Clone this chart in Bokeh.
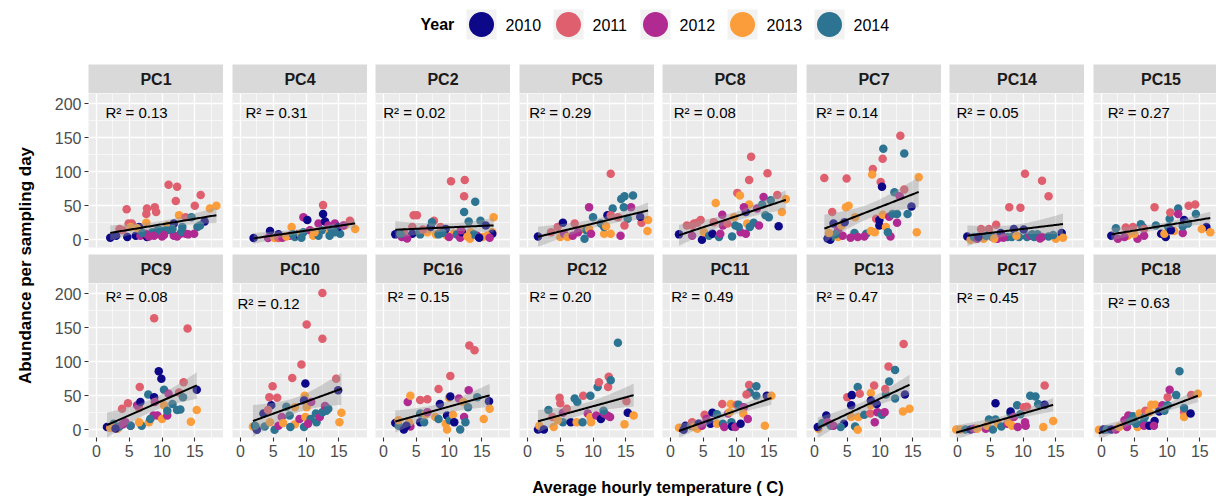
import math
import numpy as np
from bokeh.plotting import figure
from bokeh.layouts import row, column
from bokeh.models import Range1d, FixedTicker, Label, ColumnDataSource
from bokeh.transform import factor_cmap
from bokeh.core.properties import value
from bokeh.embed import file_html
from bokeh.resources import INLINE

# ------------------------------------------------------------------ data
YEARS = ["2010", "2011", "2012", "2013", "2014"]
YEAR_COLORS = ["#0D0887", "#DF5F6E", "#B02A92", "#FA9D3A", "#2C7491"]

ROW_1 = ["PC1", "PC4", "PC2", "PC5", "PC8", "PC7", "PC14", "PC15"]
ROW_2 = ["PC9", "PC10", "PC16", "PC12", "PC11", "PC13", "PC17", "PC18"]

R_SQUARED = {
    "PC1": "0.13", "PC4": "0.31", "PC2": "0.02", "PC5": "0.29",
    "PC8": "0.08", "PC7": "0.14", "PC14": "0.05", "PC15": "0.27",
    "PC9": "0.08", "PC10": "0.12", "PC16": "0.15", "PC12": "0.20",
    "PC11": "0.49", "PC13": "0.47", "PC17": "0.45", "PC18": "0.63",
}

X_TICKS = [0, 5, 10, 15]
X_MINOR = [-2.5, 2.5, 7.5, 12.5, 17.5]
Y_TICKS = [0, 50, 100, 150, 200]
Y_MINOR = [25, 75, 125, 175]

PC1_TEMP = [2.1, 3.5, 4.6, 4.9, 5.4, 4.7, 5.2, 6.0, 6.7, 6.5, 7.6, 7.7, 7.6, 7.7, 8.9, 9.1, 8.5, 9.3, 8.8, 10.0,
            10.8, 11.0, 12.3, 12.1, 12.6, 11.8, 11.3, 11.8, 12.8, 13.1, 13.6, 14.5, 13.6, 15.4, 15.0, 15.9, 16.5,
            17.3, 18.3, 14.9, 10.6, 7.5, 9.7, 9.9, 10.3, 11.6, 12.3, 13.0, 14.0, 6.2, 7.0, 8.0, 3.0, 4.0, 15.8]
PC1_ABUND = [3, 16, 45, 24, 24, 4, 19, 6, 6, 19, 38, 46, 25, 4, 48, 41, 11, 14, 6, 5,
             21, 81, 78, 57, 36, 24, 14, 6, 9, 19, 33, 33, 9, 19, 50, 66, 27, 46, 50, 9, 14, 9, 14,
             12, 7, 16, 5, 12, 8, 17, 10, 5, 6, 14, 21]
PC1_YEAR = [2010, 2011, 2011, 2011, 2011, 2010, 2013, 2010, 2012, 2010, 2011, 2011, 2013, 2010, 2011, 2011, 2014,
            2014, 2012, 2012, 2013, 2011, 2011, 2011, 2013, 2010, 2014, 2012, 2012, 2014, 2011, 2014, 2012, 2014,
            2011, 2011, 2010, 2013, 2013, 2012, 2014, 2012, 2014,
            2014, 2012, 2014, 2012, 2014, 2012, 2013, 2014, 2012, 2010, 2011, 2014]

PC4_TEMP = [2.0, 4.5, 4.2, 5.2, 5.8, 7.8, 7.5, 8.3, 8.8, 9.1, 9.6, 10.2, 9.6, 10.6, 11.1, 11.9, 12.6, 12.6, 12.9,
            11.9, 12.4, 13.4, 13.6, 13.9, 14.4, 15.2, 15.9, 16.7, 17.5, 14.9, 15.7, 14.4, 11.3, 13.6, 5.8, 6.4,
            7.0, 8.0, 9.3]
PC4_ABUND = [2.5, 13, 2.5, 2.5, 8, 19, 6, 4, 8, 9, 33, 29, 11, 14, 6, 24, 51, 38, 27, 6, 14, 21, 10, 16, 24, 9,
             21, 28, 16, 19, 21, 11, 11, 6, 2.5, 3, 5, 8, 3]
PC4_YEAR = [2010, 2010, 2012, 2013, 2010, 2013, 2012, 2014, 2010, 2013, 2012, 2010, 2014, 2012, 2013, 2012, 2011,
            2010, 2010, 2014, 2014, 2012, 2013, 2014, 2012, 2014, 2013, 2011, 2013, 2010, 2012, 2014, 2013, 2014,
            2011, 2012, 2013, 2014, 2014]

PC2_TEMP = [1.8, 2.8, 3.1, 4.4, 4.6, 5.1, 4.4, 5.6, 6.7, 7.2, 7.7, 7.4, 8.0, 8.4, 8.7, 9.7, 9.5, 10.3, 12.4, 12.3,
            14.0, 12.3, 13.0, 10.7, 11.2, 11.7, 12.0, 13.2, 13.3, 14.3, 15.1, 14.8, 15.6, 16.8, 16.6, 16.6, 11.8, 2.6,
            15.8, 16.2, 13.8, 14.6, 12.8, 10.0, 9.0, 5.5, 6.0, 3.6]
PC2_ABUND = [8, 4, 11, 19, 36, 36, 9, 8, 11, 19, 28, 26, 8, 8, 19, 6, 16, 86, 88, 64,
             56, 41, 27, 9, 8, 3, 11, 1.5, 11, 6, 4, 28, 21, 33, 11, 9, 14, 9,
             6, 3, 8, 3, 5, 4, 10, 12, 15, 2]
PC2_YEAR = [2010, 2012, 2011, 2011, 2011, 2011, 2010, 2014, 2013, 2010, 2011, 2014, 2013, 2014, 2011, 2013, 2010,
            2011, 2011, 2011, 2014, 2014, 2014, 2013, 2014, 2012, 2010, 2013, 2013, 2012, 2013, 2014, 2010, 2013,
            2013, 2010, 2012, 2014,
            2013, 2012, 2014, 2010, 2013, 2012, 2014, 2014, 2011, 2012]

PC5_TEMP = [1.6, 3.6, 4.6, 5.4, 5.0, 5.6, 6.1, 6.9, 7.2, 8.3, 7.7, 9.4, 8.7, 9.0, 9.4, 10.0, 9.7, 11.2, 11.7, 12.2,
            13.0, 12.7, 12.7, 12.7, 14.2, 14.3, 14.8, 16.1, 15.3, 15.8, 14.8, 14.7, 17.4, 18.4, 18.3, 17.2, 11.7,
            13.8, 12.0]
PC5_ABUND = [5, 11, 19, 25, 4, 9, 4, 6, 24, 16, 11, 48, 1.5, 14, 16, 33, 9, 24, 9, 36,
             46, 97, 36, 9, 6, 60, 64, 65, 31, 48, 21, 48, 25, 29, 13, 34, 19, 33, 20]
PC5_YEAR = [2010, 2011, 2011, 2010, 2013, 2012, 2013, 2012, 2011, 2013, 2012, 2012, 2014, 2014, 2013, 2014, 2012,
            2014, 2013, 2010, 2014, 2011, 2011, 2013, 2012, 2014, 2014, 2014, 2014, 2012, 2011, 2014, 2011, 2013,
            2013, 2010, 2014, 2011, 2013]

PC8_TEMP = [1.3, 2.5, 3.6, 4.1, 4.6, 3.3, 4.8, 5.1, 5.9, 6.4, 6.9, 6.6, 7.4, 7.9, 8.0, 7.6, 8.7, 9.7, 9.4, 9.9,
            10.2, 10.6, 10.7, 10.4, 11.7, 11.5, 11.5, 12.1, 12.0, 11.2, 12.0, 12.3, 12.7, 13.2, 13.5, 14.0, 14.2,
            14.8, 14.5, 15.0, 15.3, 16.5, 16.3, 17.0, 17.6, 3.3]
PC8_ABUND = [8, 21, 24, 25, 29, 6, 0, 11, 6, 9, 54, 26, 4, 37, 21, 9, 24, 33, 5, 21,
             69, 65, 11, 19, 24, 41, 9, 19, 52, 48, 88, 122, 25, 46, 21, 52, 63, 98, 36, 33, 58, 20, 66, 41, 60, 21]
PC8_YEAR = [2010, 2011, 2011, 2011, 2011, 2012, 2010, 2013, 2014, 2010, 2013, 2011, 2014, 2012, 2012, 2012, 2011,
            2013, 2014, 2014, 2011, 2013, 2012, 2014, 2013, 2010, 2012, 2014, 2013, 2012, 2011, 2011, 2014, 2012,
            2012, 2014, 2012, 2011, 2014, 2014, 2014, 2010, 2011, 2013, 2013, 2011]

PC7_TEMP = [1.5, 4.9, 2.7, 2.4, 2.9, 2.8, 3.6, 3.6, 4.8, 5.2, 4.3, 4.1, 6.1, 6.6, 6.2, 4.6, 7.9, 8.6, 9.2, 8.9,
            8.8, 10.1, 10.4, 10.5, 10.3, 9.4, 9.9, 10.4, 9.9, 10.9, 11.4, 11.6, 11.2, 12.6, 12.2, 12.6, 13.0, 13.1,
            13.7, 13.7, 14.2, 14.8, 15.9, 15.6, 11.9, 7.6, 2.0, 3.2, 5.5, 2.2]
PC7_ABUND = [91, 90, 41, 0, 24, 5, 4, 14, 48, 50, 6, 21, 10, 4, 33, 26, 9, 13, 11, 104,
             96, 85, 119, 134, 78, 31, 29, 37, 21, 19, 34, 5, 11, 25, 70, 38, 64, 153, 127, 74, 38, 49, 92, 11, 38, 5,
             2, 8, 3, 10]
PC7_YEAR = [2011, 2011, 2011, 2010, 2010, 2014, 2013, 2012, 2013, 2013, 2012, 2013, 2014, 2012, 2013, 2010, 2014,
            2013, 2013, 2011, 2013, 2011, 2011, 2014, 2010, 2011, 2010, 2013, 2010, 2013, 2012, 2012, 2014, 2012,
            2014, 2014, 2012, 2011, 2014, 2011, 2014, 2010, 2013, 2013, 2014, 2012, 2010, 2014, 2012, 2013]

PC14_TEMP = [1.5, 2.0, 2.5, 3.6, 3.0, 4.8, 5.9, 4.0, 5.3, 6.6, 6.1, 7.6, 7.9, 8.6, 9.6, 10.3, 9.4, 10.1, 10.6, 11.1,
             11.7, 12.2, 12.9, 13.9, 12.9, 13.9, 15.0, 15.9, 16.1, 8.3, 4.4, 5.6, 7.0, 3.2, 9.0, 11.4, 12.6, 14.6]
PC14_ABUND = [5, 0, 4, 16, 1.5, 16, 22, 1.5, 4, 10, 1.5, 4, 48, 16, 47, 97, 4, 15, 4, 6,
              4, 8, 87, 64, 4, 5, 1.5, 10, 3, 4, 6, 2, 3, 4, 6, 8, 2, 7]
PC14_YEAR = [2010, 2013, 2014, 2011, 2012, 2011, 2011, 2013, 2014, 2010, 2012, 2014, 2011, 2010, 2011, 2011, 2014,
             2010, 2014, 2012, 2014, 2014, 2011, 2011, 2012, 2014, 2013, 2010, 2013, 2014, 2014, 2013, 2012, 2010,
             2013, 2014, 2012, 2014]

PC15_TEMP = [1.5, 2.2, 2.5, 3.7, 4.8, 4.0, 3.5, 5.5, 6.0, 6.3, 5.0, 6.5, 6.5, 8.1, 8.3, 9.1, 9.8, 9.6, 10.4, 10.2,
             10.5, 11.7, 11.7, 12.4, 11.1, 12.4, 12.6, 13.2, 13.3, 14.3, 14.4, 16.0, 15.3, 16.6, 10.6]
PC15_ABUND = [6, 17, 1.5, 18, 19, 6, 4, 1.5, 23, 19, 9, 16, 6, 48, 21, 9, 4, 9, 31, 19,
              40, 46, 38, 10, 13, 20, 29, 24, 50, 52, 38, 19, 16, 11, 14]
PC15_YEAR = [2010, 2014, 2012, 2011, 2011, 2013, 2012, 2012, 2014, 2014, 2013, 2011, 2012, 2011, 2014, 2010, 2010,
             2013, 2014, 2014, 2011, 2014, 2012, 2012, 2013, 2014, 2010, 2014, 2011, 2011, 2014, 2010, 2013, 2013,
             2010]

PC9_TEMP = [1.6, 2.1, 3.2, 2.6, 3.9, 4.8, 4.4, 5.2, 5.2, 6.5, 6.2, 6.7, 6.6, 6.9, 6.5, 8.0, 7.9, 8.8, 8.8, 8.7,
            8.2, 8.9, 9.3, 9.5, 9.9, 10.0, 10.3, 10.3, 10.8, 11.0, 10.8, 11.6, 12.3, 12.8, 12.6, 13.3, 13.2, 13.9,
            14.4, 15.3, 15.3, 2.5, 3.5, 4.0, 2.9]
PC9_ABUND = [4, 2.5, 1.5, 9, 31, 39, 11, 6, 6, 32, 36, 41, 63, 6, 11, 11, 52, 48, 164, 21,
             16, 41, 21, 86, 75, 16, 59, 36, 21, 53, 28, 38, 29, 30, 55, 70, 48, 149, 12, 29, 59, 3, 5, 8, 2]
PC9_YEAR = [2010, 2013, 2013, 2014, 2011, 2011, 2012, 2012, 2014, 2011, 2012, 2010, 2011, 2014, 2013, 2013, 2014,
            2010, 2011, 2012, 2014, 2012, 2012, 2010, 2010, 2013, 2014, 2013, 2012, 2012, 2014, 2014, 2014, 2014,
            2011, 2011, 2014, 2011, 2013, 2013, 2010, 2013, 2014, 2012, 2010]

PC10_TEMP = [1.9, 2.4, 2.5, 2.2, 3.5, 3.7, 4.7, 4.2, 4.4, 4.9, 5.6, 4.5, 5.2, 5.8, 6.3, 6.5, 7.0, 7.9, 7.5, 8.3,
             8.3, 7.6, 9.0, 9.3, 9.9, 9.8, 9.7, 10.1, 9.7, 9.9, 10.1, 10.8, 10.7, 10.3, 11.5, 11.6, 12.1, 12.5,
             12.5, 12.5, 13.1, 12.9, 13.4, 14.6, 14.9, 15.1, 15.4]
PC10_ABUND = [5, 5, 0, 6, 24, 5, 36, 29, 48, 64, 47, 11, 0, 6, 19, 10, 34, 76, 21, 33,
              8, 4, 16, 96, 68, 50, 43, 33, 4, 19, 155, 41, 16, 9, 24, 11, 19, 201, 134, 26, 28, 35, 31, 75, 58,
              11, 25]
PC10_YEAR = [2013, 2013, 2010, 2014, 2010, 2014, 2010, 2011, 2011, 2011, 2011, 2013, 2014, 2012, 2012, 2013, 2014,
             2011, 2014, 2013, 2013, 2014, 2012, 2011, 2010, 2013, 2010, 2013, 2014, 2013, 2011, 2012, 2014, 2012,
             2014, 2014, 2012, 2011, 2011, 2014, 2014, 2012, 2014, 2011, 2010, 2013, 2013]

PC16_TEMP = [1.8, 2.3, 2.3, 3.1, 3.7, 4.1, 4.1, 3.9, 3.5, 5.6, 5.6, 6.2, 5.6, 6.7, 6.4, 6.7, 7.9, 8.4, 8.4, 8.6,
             9.5, 9.7, 9.7, 10.2, 10.0, 10.2, 10.1, 10.6, 11.5, 10.8, 11.7, 12.3, 12.2, 12.5, 12.9, 13.1, 13.9,
             13.0, 14.3, 15.3, 16.1, 16.2]
PC16_ABUND = [10, 6, 14, 0.5, 41, 50, 5, 11, 6, 24, 11, 11, 44, 45, 23, 26, 19, 16, 60, 38,
              9, 0.5, 21, 79, 47, 49, 14, 22, 46, 11, 0.5, 19, 41, 11, 33, 124, 117, 58, 48, 16, 42, 31]
PC16_YEAR = [2010, 2014, 2013, 2010, 2012, 2013, 2012, 2013, 2010, 2014, 2010, 2014, 2011, 2011, 2013, 2012, 2013,
             2014, 2011, 2010, 2013, 2013, 2010, 2011, 2013, 2010, 2014, 2013, 2012, 2010, 2014, 2012, 2013, 2014,
             2014, 2011, 2011, 2012, 2014, 2013, 2010, 2013]

PC12_TEMP = [1.6, 1.8, 2.5, 3.2, 3.8, 4.0, 4.9, 5.0, 5.4, 5.4, 4.6, 6.0, 6.6, 7.2, 7.6, 7.5, 8.5, 8.4, 9.2, 9.6,
             9.6, 9.7, 10.5, 10.7, 10.9, 11.2, 11.7, 12.2, 12.3, 12.4, 12.7, 12.6, 13.8, 14.8, 15.1, 15.3, 16.2,
             11.6]
PC12_ABUND = [0.5, 6, 0.5, 29, 19, 4, 47, 39, 25, 11, 14, 31, 11, 46, 41, 11, 50, 11, 24, 50,
              19, 11, 21, 63, 70, 16, 24, 21, 63, 78, 73, 19, 128, 8, 42, 25, 21, 28]
PC12_YEAR = [2010, 2013, 2010, 2014, 2011, 2013, 2011, 2011, 2012, 2014, 2013, 2011, 2010, 2014, 2014, 2013, 2011,
             2014, 2012, 2014, 2013, 2013, 2012, 2014, 2011, 2010, 2012, 2012, 2011, 2011, 2014, 2012, 2014, 2013,
             2011, 2010, 2013, 2014]

PC11_TEMP = [1.3, 2.0, 2.3, 3.1, 3.3, 3.6, 4.3, 4.1, 4.8, 5.2, 5.5, 6.4, 6.1, 7.1, 7.1, 7.9, 8.0, 8.2, 8.8, 9.0,
             9.2, 9.3, 9.4, 9.9, 10.1, 10.4, 10.7, 11.2, 11.1, 11.8, 12.0, 12.1, 11.6, 13.1, 13.1, 14.7, 14.4, 15.4]
PC11_ABUND = [3, 0, 6, 6, 11, 4, 9, 1.5, 6, 22, 16, 25, 9, 23, 9, 38, 9, 4, 24, 26,
              38, 11, 5, 4, 37, 37, 9, 33, 24, 16, 66, 55, 52, 64, 50, 50, 6, 50]
PC11_YEAR = [2013, 2010, 2010, 2014, 2011, 2013, 2010, 2013, 2012, 2011, 2012, 2010, 2010, 2014, 2013, 2011, 2014,
             2012, 2012, 2013, 2013, 2014, 2010, 2012, 2011, 2014, 2010, 2012, 2013, 2012, 2011, 2014, 2011, 2014,
             2014, 2010, 2013, 2013]

PC13_TEMP = [0.6, 0.5, 1.2, 1.8, 2.0, 2.5, 2.9, 4.5, 4.0, 5.0, 5.7, 5.6, 5.6, 6.6, 6.9, 6.2, 6.6, 6.7, 7.6, 8.5,
             8.6, 8.6, 8.6, 9.2, 9.6, 9.5, 9.1, 10.3, 10.7, 10.9, 10.8, 11.3, 11.4, 12.3, 12.3, 13.6, 13.8, 13.5,
             14.5]
PC13_ABUND = [1.5, 4, 10, 21, 11, 6, 6, 9, 4, 48, 51, 36, 19, 63, 53, 5, 0, 19, 22, 24,
              36, 54, 43, 11, 26, 38, 65, 22, 26, 52, 60, 93, 71, 88, 46, 126, 52, 27, 31]
PC13_YEAR = [2013, 2010, 2014, 2010, 2012, 2014, 2012, 2010, 2014, 2011, 2010, 2010, 2013, 2014, 2011, 2014, 2013,
             2013, 2014, 2011, 2013, 2013, 2010, 2012, 2012, 2010, 2011, 2014, 2012, 2014, 2011, 2011, 2014, 2014,
             2014, 2011, 2010, 2013, 2013]

PC17_TEMP = [-0.2, 0.5, 1.2, 2.0, 2.5, 3.0, 4.3, 4.8, 5.8, 5.8, 4.5, 5.4, 6.2, 6.7, 7.6, 7.8, 8.1, 8.1, 8.3, 8.6,
             9.1, 9.2, 9.6, 10.3, 10.1, 10.6, 10.4, 11.1, 11.9, 12.3, 13.3, 13.3, 13.1, 14.6]
PC17_ABUND = [0.5, 0.5, 0.5, 0.5, 1.5, 1.5, 1.5, 15, 15, 39, 6, 0.5, 9, 5, 9, 11, 24, 27, 6, 19,
              36, 4, 23, 11, 33, 34, 6, 50, 49, 38, 37, 65, 4, 13]
PC17_YEAR = [2013, 2013, 2014, 2010, 2012, 2013, 2012, 2014, 2014, 2010, 2013, 2014, 2013, 2014, 2012, 2013, 2014,
             2010, 2013, 2012, 2014, 2012, 2014, 2012, 2011, 2011, 2012, 2014, 2014, 2014, 2010, 2011, 2013, 2013]

PC18_TEMP = [-0.4, 0.3, 0.8, 1.5, 2.2, 3.5, 4.1, 2.7, 3.9, 4.4, 4.8, 5.5, 5.8, 5.3, 6.4, 6.5, 6.6, 6.7, 7.3, 8.1,
             8.0, 7.3, 7.6, 8.2, 8.8, 9.3, 9.6, 10.1, 10.4, 10.1, 11.4, 11.9, 12.6, 12.6, 12.6, 13.6, 13.7, 14.7]
PC18_ABUND = [0, 0.5, 0.5, 0.5, 0.5, 14, 21, 4, 4, 13, 20, 4, 24, 9, 11, 6, 19, 28, 6, 13,
              6, 26, 37, 37, 27, 36, 28, 48, 59, 36, 51, 86, 26, 19, 32, 24, 51, 53]
PC18_YEAR = [2013, 2010, 2014, 2010, 2012, 2012, 2012, 2013, 2012, 2014, 2014, 2013, 2013, 2014, 2014, 2012, 2014,
             2011, 2010, 2010, 2012, 2013, 2013, 2013, 2010, 2012, 2014, 2011, 2012, 2014, 2014, 2014, 2011, 2013,
             2014, 2010, 2011, 2013]

SERIES = {
    "PC1": (PC1_TEMP, PC1_ABUND, PC1_YEAR), "PC4": (PC4_TEMP, PC4_ABUND, PC4_YEAR),
    "PC2": (PC2_TEMP, PC2_ABUND, PC2_YEAR), "PC5": (PC5_TEMP, PC5_ABUND, PC5_YEAR),
    "PC8": (PC8_TEMP, PC8_ABUND, PC8_YEAR), "PC7": (PC7_TEMP, PC7_ABUND, PC7_YEAR),
    "PC14": (PC14_TEMP, PC14_ABUND, PC14_YEAR), "PC15": (PC15_TEMP, PC15_ABUND, PC15_YEAR),
    "PC9": (PC9_TEMP, PC9_ABUND, PC9_YEAR), "PC10": (PC10_TEMP, PC10_ABUND, PC10_YEAR),
    "PC16": (PC16_TEMP, PC16_ABUND, PC16_YEAR), "PC12": (PC12_TEMP, PC12_ABUND, PC12_YEAR),
    "PC11": (PC11_TEMP, PC11_ABUND, PC11_YEAR), "PC13": (PC13_TEMP, PC13_ABUND, PC13_YEAR),
    "PC17": (PC17_TEMP, PC17_ABUND, PC17_YEAR), "PC18": (PC18_TEMP, PC18_ABUND, PC18_YEAR),
}

# ------------------------------------------------------------------ layout / style
FONT = "Liberation Sans"
PAGE_W = 1216
PAGE_H = 498
FRAME_W, FRAME_H, STRIP_H = 135, 154, 29
LEFT0, PITCH = 88, 143.5
YTITLE_W = 40
TOP_H = 64
ROW_GAP = 7
BOTTOM_AXIS_H = 28
X_LIM = (-1.22, 19.38)
Y_LIM = (-11.3, 215.1)

# where each R² annotation sits (left edge, vertical centre) in data units
LABEL_POS = {
    "PC1": (1.37, 187.6), "PC4": (0.76, 187.6), "PC2": (-0.04, 187.6), "PC5": (0.28, 187.6),
    "PC8": (0.50, 187.6), "PC7": (0.23, 187.6), "PC14": (-0.15, 187.6), "PC15": (0.95, 187.6),
    "PC9": (1.37, 196.5), "PC10": (-0.46, 185.3), "PC16": (0.57, 196.5), "PC12": (0.28, 196.5),
    "PC11": (0.11, 196.5), "PC13": (0.23, 196.5), "PC17": (-0.15, 195.0), "PC18": (0.95, 187.6),
}

LEFTS = [int(math.floor(LEFT0 + PITCH * c + 0.5)) for c in range(8)]


def t975(df):
    z = 1.959964
    return (z + (z ** 3 + z) / (4 * df) + (5 * z ** 5 + 16 * z ** 3 + 3 * z) / (96 * df ** 2)
            + (3 * z ** 7 + 19 * z ** 5 + 17 * z ** 3 - 15 * z) / (384 * df ** 3))


def col_geometry(c):
    left = LEFTS[c]
    w = min(FRAME_W, PAGE_W - left)
    pad = left - YTITLE_W if c == 0 else left - (LEFTS[c - 1] + FRAME_W)
    return w, pad


def style_axis(ax):
    ax.axis_line_color = None
    ax.major_tick_line_color = "#333333"
    ax.major_tick_line_width = 1.1
    ax.major_tick_out = 4
    ax.major_tick_in = 0
    ax.minor_tick_line_color = None
    ax.major_label_text_font = FONT
    ax.major_label_text_font_size = "16px"
    ax.major_label_text_color = "#4D4D4D"
    ax.major_label_standoff = 3


def make_cell(name, c, bottom_row):
    w, pad = col_geometry(c)
    x_end = X_LIM[0] + (X_LIM[1] - X_LIM[0]) * w / FRAME_W
    xr = Range1d(X_LIM[0], x_end)

    strip = figure(title=None, frame_width=w, frame_height=STRIP_H, x_range=xr, y_range=Range1d(0, 1),
                   x_axis_location=None, y_axis_location=None, toolbar_location=None, tools="",
                   output_backend="svg", min_border=0, min_border_left=pad,
                   background_fill_color="#D9D9D9", border_fill_color="white", outline_line_color=None)
    strip.xgrid.visible = False
    strip.ygrid.visible = False
    strip.add_layout(Label(x=(X_LIM[0] + X_LIM[1]) / 2, y=0.5, text=name, text_align="center",
                           text_baseline="middle", text_font=FONT, text_font_size="16px",
                           text_font_style="bold", text_color="#1A1A1A"))

    p = figure(title=None, frame_width=w, frame_height=FRAME_H, x_range=xr, y_range=Range1d(*Y_LIM),
               x_axis_location="below" if bottom_row else None,
               y_axis_location="left" if c == 0 else None,
               toolbar_location=None, tools="", output_backend="svg",
               min_border=0, min_border_left=pad,
               min_border_bottom=BOTTOM_AXIS_H if bottom_row else ROW_GAP,
               background_fill_color="#EBEBEB", border_fill_color="white", outline_line_color=None)

    p.xgrid.ticker = FixedTicker(ticks=X_TICKS, minor_ticks=X_MINOR)
    p.ygrid.ticker = FixedTicker(ticks=Y_TICKS, minor_ticks=Y_MINOR)
    for g in (p.xgrid, p.ygrid):
        g.grid_line_color = "white"
        g.grid_line_width = 1.3
        g.minor_grid_line_color = "white"
        g.minor_grid_line_width = 0.6

    if bottom_row:
        p.xaxis.ticker = FixedTicker(ticks=X_TICKS)
        for ax in p.xaxis:
            style_axis(ax)
    if c == 0:
        p.yaxis.ticker = FixedTicker(ticks=Y_TICKS)
        for ax in p.yaxis:
            style_axis(ax)

    temp, abund, year = SERIES[name]
    src = ColumnDataSource(dict(temp=temp, abund=abund, year=[str(v) for v in year]))
    p.scatter("temp", "abund", source=src, size=8.5, line_color=None,
              fill_color=factor_cmap("year", YEAR_COLORS, YEARS))

    # linear fit with 95% confidence band
    xs = np.asarray(temp, dtype=float)
    ys = np.asarray(abund, dtype=float)
    n = len(xs)
    slope, intercept = np.polyfit(xs, ys, 1)
    gx = np.linspace(xs.min(), xs.max(), 80)
    fit = intercept + slope * gx
    resid = ys - (intercept + slope * xs)
    s = math.sqrt(float(np.sum(resid ** 2)) / (n - 2))
    sxx = float(np.sum((xs - xs.mean()) ** 2))
    se = s * np.sqrt(1.0 / n + (gx - xs.mean()) ** 2 / sxx)
    half = t975(n - 2) * se
    p.varea(x=gx, y1=fit - half, y2=fit + half, fill_color="#999999", fill_alpha=0.4)
    p.line(gx, fit, line_color="black", line_width=2)

    lx, ly = LABEL_POS[name]
    p.add_layout(Label(x=lx, y=ly, text="R\u00b2 = " + R_SQUARED[name], text_align="left",
                       text_baseline="middle", text_font=FONT, text_font_size="15px", text_color="black"))
    return strip, p


row1 = [make_cell(n, c, False) for c, n in enumerate(ROW_1)]
row2 = [make_cell(n, c, True) for c, n in enumerate(ROW_2)]

grid = column(
    row([s for s, _ in row1], spacing=0),
    row([p for _, p in row1], spacing=0),
    row([s for s, _ in row2], spacing=0),
    row([p for _, p in row2], spacing=0),
    spacing=0,
)

GRID_H = 2 * (STRIP_H + FRAME_H) + ROW_GAP + BOTTOM_AXIS_H
XTITLE_H = PAGE_H - TOP_H - GRID_H


def blank(w, h, xr, yr):
    f = figure(title=None, frame_width=w, frame_height=h, x_range=xr, y_range=yr,
               x_axis_location=None, y_axis_location=None, toolbar_location=None, tools="",
               output_backend="svg", min_border=0, background_fill_color="white",
               border_fill_color="white", outline_line_color=None)
    f.xgrid.visible = False
    f.ygrid.visible = False
    return f


# y-axis title
ytitle = blank(YTITLE_W, GRID_H, Range1d(0, YTITLE_W), Range1d(0, GRID_H))
ytitle.add_layout(Label(x=25, y=GRID_H - (265 - TOP_H), text="Abundance per sampling day", angle=math.pi / 2,
                        text_align="center", text_baseline="middle", text_font=FONT,
                        text_font_size="17px", text_font_style="bold", text_color="black"))

# x-axis title
xtitle = blank(PAGE_W, XTITLE_H, Range1d(0, PAGE_W), Range1d(0, XTITLE_H))
xtitle.add_layout(Label(x=657.5, y=XTITLE_H - (486 - TOP_H - GRID_H), text="Average hourly temperature ( C)",
                        text_align="center", text_baseline="middle", text_font=FONT,
                        text_font_size="16.5px", text_font_style="bold", text_color="black"))

# year legend
legend = blank(PAGE_W, TOP_H, Range1d(0, PAGE_W), Range1d(0, TOP_H))
LEG_Y = TOP_H - 24
key_x = [481 + 87 * i for i in range(len(YEARS))]
legend.rect(x=key_x, y=[LEG_Y] * len(YEARS), width=30, height=30, fill_color="#F2F2F2", line_color=None)
legend.scatter(x=key_x, y=[LEG_Y] * len(YEARS), size=25, fill_color=YEAR_COLORS, line_color=None)
legend.text(x=[k + 24 for k in key_x], y=[LEG_Y] * len(YEARS), text=YEARS, text_font=value(FONT),
            text_font_size="16px", text_baseline="middle", text_align="left", text_color="black")
legend.add_layout(Label(x=420, y=LEG_Y, text="Year", text_align="left", text_baseline="middle",
                        text_font=FONT, text_font_size="16px", text_font_style="bold", text_color="black"))

page = column(legend, row(ytitle, grid, spacing=0), xtitle, spacing=0)

open("out.html", "w").write(file_html(page, INLINE))
